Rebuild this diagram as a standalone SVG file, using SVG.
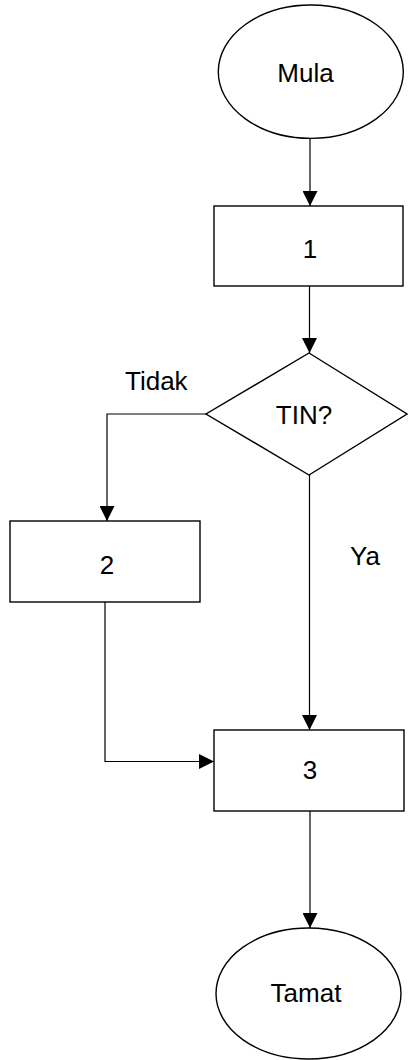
<svg xmlns="http://www.w3.org/2000/svg" width="408" height="1060" viewBox="0 0 408 1060">
<defs>
<style>
.shape{fill:#fff;stroke:#000;stroke-width:1.4}
.line{fill:none;stroke:#000;stroke-width:1.2}
text{font-family:"Liberation Sans",Arial,sans-serif;font-size:26px;fill:#000}
.c{text-anchor:middle}
</style>
<marker id="arr" markerUnits="userSpaceOnUse" markerWidth="15" markerHeight="15" refX="15" refY="7.5" orient="auto">
<path d="M0,0 L15,7.5 L0,15 z" fill="#000"/>
</marker>
</defs>
<rect width="408" height="1060" fill="#fff"/>
<g id="connectors">
<line class="line" x1="310" y1="138" x2="310" y2="206" marker-end="url(#arr)"/>
<line class="line" x1="309.5" y1="286" x2="309.5" y2="353" marker-end="url(#arr)"/>
<polyline class="line" points="206,414 107,414 107,521" marker-end="url(#arr)"/>
<line class="line" x1="309.5" y1="475" x2="309.5" y2="730" marker-end="url(#arr)"/>
<polyline class="line" points="105,602 105,761.5 214,761.5" marker-end="url(#arr)"/>
<line class="line" x1="310" y1="811" x2="310" y2="928" marker-end="url(#arr)"/>
<text x="125" y="390">Tidak</text>
<text x="350" y="565">Ya</text>
</g>
<g id="mula">
<ellipse class="shape" cx="310.8" cy="71.7" rx="92.5" ry="66.7"/>
<text class="c" x="305.5" y="81.7">Mula</text>
</g>
<g id="step1">
<rect class="shape" x="214" y="206" width="189" height="80"/>
<text class="c" x="310" y="258">1</text>
</g>
<g id="tin">
<polygon class="shape" points="309,353 407,414 309,475 206,414"/>
<text class="c" x="304" y="424">TIN?</text>
</g>
<g id="step2">
<rect class="shape" x="10" y="521" width="190" height="81"/>
<text class="c" x="107" y="574">2</text>
</g>
<g id="step3">
<rect class="shape" x="214" y="730" width="190" height="81"/>
<text class="c" x="310" y="779">3</text>
</g>
<g id="tamat">
<ellipse class="shape" cx="308.5" cy="993.5" rx="92.5" ry="65.5"/>
<text class="c" x="306" y="1001.7">Tamat</text>
</g>
</svg>
